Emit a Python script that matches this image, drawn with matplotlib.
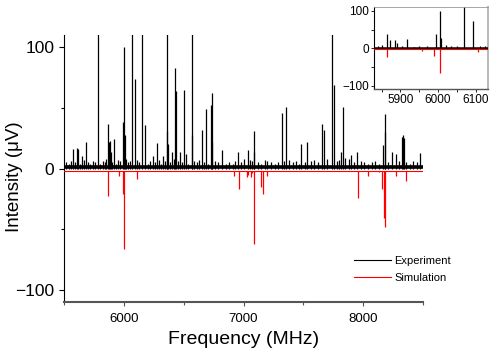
import matplotlib
matplotlib.use("Agg")
import matplotlib.pyplot as plt
from matplotlib.lines import Line2D
from matplotlib.ticker import MultipleLocator

plt.rcParams['font.family'] = ['Liberation Sans', 'DejaVu Sans']

# === Experiment: strong lines (MHz, uV); 130 = clipped above the axis
exp_freq = [5573, 5606, 5618, 5650, 5684, 5781, 5865, 5873, 5886, 5892, 5918,
            5994, 6005, 6007, 6068, 6092, 6152, 6177, 6240, 6275, 6330, 6358,
            6363, 6368, 6400, 6428, 6436, 6470, 6503, 6520, 6567, 6570, 6656,
            6687, 6726, 6734, 6740, 6818, 6957, 7000, 7035, 7088, 7090, 7180,
            7319, 7355, 7481, 7533, 7653, 7675, 7737, 7759, 7815, 7829, 7900,
            7951, 8163, 8180, 8183, 8240, 8270, 8322, 8335, 8343, 8475]
exp_int = [16, 17, 16, 10, 22, 130, 37, 22, 23, 14, 24,
           38, 100, 28, 130, 74, 130, 36, 10, 21, 10, 130,
           31, 20, 14, 83, 64, 14, 65, 12, 130, 28, 32,
           49, 52, 62, 22, 15, 14, 8, 15, 31, 14, 7,
           46, 51, 20, 22, 37, 32, 130, 69, 14, 51, 11,
           14, 19, 30, 45, 14, 12, 26, 28, 25, 13]

# === Experiment: weak lines
grass_freq = [5520, 5545, 5560, 5590, 5630, 5665, 5700, 5720, 5745, 5760, 5800,
              5825, 5840, 5850, 5905, 5935, 5950, 5970, 6020, 6035, 6050, 6110,
              6125, 6200, 6215, 6260, 6290, 6310, 6345, 6385, 6415, 6455, 6485,
              6540, 6590, 6610, 6630, 6670, 6705, 6760, 6790, 6850, 6880, 6910,
              6930, 6980, 7050, 7070, 7120, 7150, 7200, 7230, 7260, 7290, 7340,
              7380, 7410, 7440, 7460, 7510, 7560, 7590, 7620, 7700, 7780, 7800,
              7850, 7880, 7920, 7980, 8010, 8040, 8070, 8100, 8130, 8210, 8300,
              8360, 8390, 8420, 8450]
grass_int = [5, 4, 6, 5, 4, 7, 5, 4, 6, 5, 4,
             6, 5, 8, 5, 4, 7, 6, 8, 5, 6, 7,
             5, 4, 6, 5, 7, 4, 6, 5, 8, 6, 5,
             4, 6, 5, 7, 5, 4, 6, 5, 4, 5, 4,
             6, 5, 7, 6, 5, 4, 6, 5, 4, 5, 6,
             7, 5, 6, 4, 5, 6, 7, 5, 8, 6, 7,
             9, 8, 5, 6, 5, 4, 5, 6, 4, 5, 6,
             5, 4, 6, 5]

# === Simulation (drawn downwards)
sim_freq = [5865, 5957, 5990, 6004, 6107, 6923, 6960, 7027, 7040, 7065, 7075,
            7088, 7144, 7166, 7199, 7954, 8038, 8128, 8155, 8174, 8183, 8275, 8358]
sim_int = [-23, -6, -21, -66, -9, -6, -16.5, -7, -5, -7, -4,
           -62, -15, -21, -6, -24, -6, -3, -17, -41, -48, -6, -10]

sim_offset = -2.2
exp_color = 'black'
sim_color = '#ff0000'


def draw_spectrum(ax, lw, base_lw):
    ax.vlines(grass_freq, 0, grass_int, color=exp_color, lw=lw)
    ax.vlines(exp_freq, 0, exp_int, color=exp_color, lw=lw)
    ax.axhline(1.3, color=exp_color, lw=base_lw, zorder=3)
    ax.axhline(sim_offset, color=sim_color, lw=0.8, zorder=3)
    ax.vlines(sim_freq, sim_offset, sim_int, color=sim_color, lw=lw)


fig = plt.figure(figsize=(4.98, 3.52), dpi=100)
fig.patch.set_facecolor('white')

# === Main axes
ax = fig.add_axes([0.1285, 0.142, 0.721, 0.7585])
draw_spectrum(ax, 0.9, 2.6)
ax.set_xlim(5500, 8500)
ax.set_ylim(-110, 110)
ax.spines['top'].set_visible(False)
ax.spines['right'].set_visible(False)
ax.spines['bottom'].set_color('#555555')
ax.spines['bottom'].set_linewidth(1.5)
ax.spines['left'].set_linewidth(0.8)
ax.xaxis.set_major_locator(MultipleLocator(1000))
ax.xaxis.set_minor_locator(MultipleLocator(500))
ax.yaxis.set_major_locator(MultipleLocator(100))
ax.yaxis.set_minor_locator(MultipleLocator(50))
ax.tick_params(axis='y', which='major', labelsize=12.5, length=3.5, width=0.8, direction='out')
ax.tick_params(axis='y', which='minor', length=2.5, width=0.8, direction='out')
ax.tick_params(axis='x', which='major', labelsize=9.5, length=3, width=0.8,
               color='#555555', direction='out', pad=5)
ax.tick_params(axis='x', which='minor', length=2.5, width=0.8, color='#555555', direction='out')
ax.set_xlabel('Frequency (MHz)', fontsize=14, labelpad=4)
ax.set_ylabel('Intensity (\u03bcV)', fontsize=13.5)
ax.yaxis.set_label_coords(-0.114, 0.47)

handles = [Line2D([], [], color=exp_color, lw=0.8, label='Experiment'),
           Line2D([], [], color=sim_color, lw=0.8, label='Simulation')]
ax.legend(handles=handles, loc='lower right', bbox_to_anchor=(1.105, 0.035),
          frameon=False, fontsize=8, handlelength=3.3, handletextpad=0.3,
          labelspacing=0.6)

# === Inset zoom around 6000 MHz
axin = fig.add_axes([0.751, 0.746, 0.2295, 0.2338])
draw_spectrum(axin, 0.9, 1.8)
axin.set_xlim(5830, 6133)
axin.set_ylim(-110, 110)
axin.spines['top'].set_color('#999999')
axin.spines['top'].set_linewidth(0.6)
axin.spines['right'].set_color('#bbbbbb')
axin.spines['right'].set_linewidth(1.5)
axin.spines['bottom'].set_color('#555555')
axin.spines['bottom'].set_linewidth(1.0)
axin.xaxis.set_major_locator(MultipleLocator(100))
axin.xaxis.set_minor_locator(MultipleLocator(50))
axin.yaxis.set_major_locator(MultipleLocator(100))
axin.yaxis.set_minor_locator(MultipleLocator(50))
axin.tick_params(which='both', labelsize=8.5, length=2, width=0.6, direction='out', pad=1.5)

fig.savefig('out.png', dpi=100)
